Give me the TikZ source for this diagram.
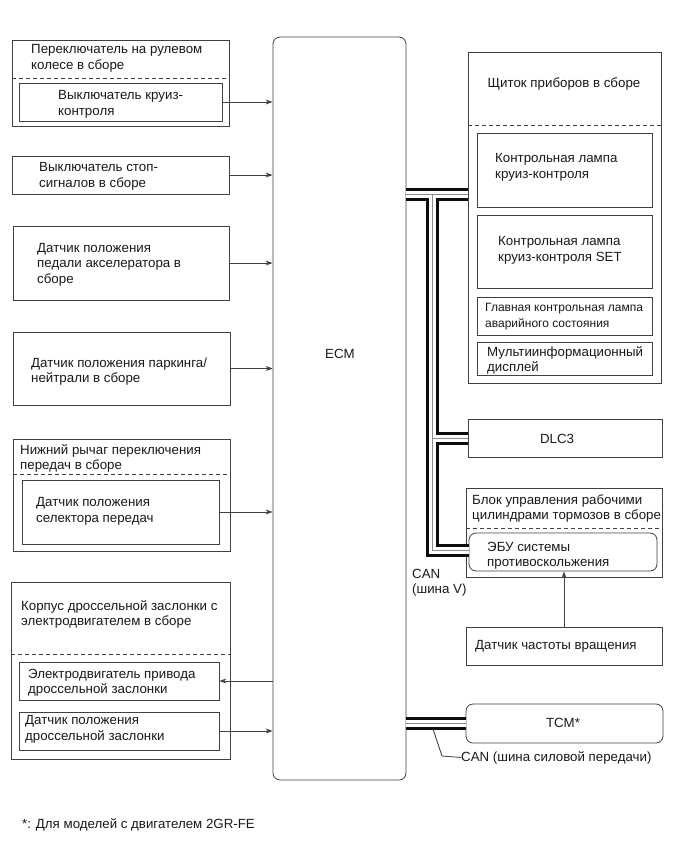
\documentclass[tikz,border=0pt]{standalone}
\usepackage{fontspec}
\setmainfont{Liberation Sans}
\usetikzlibrary{fit,arrows.meta}
\begin{document}
\begin{tikzpicture}[x=1pt,y=-1pt,
  box/.style={draw=black!75, line width=0.8pt, inner sep=0pt},
  rbox/.style={box, rounded corners=7pt},
  txt/.style={font=\fontsize{13.3}{15.5}\selectfont, align=left, inner sep=0pt, anchor=west, text=black!90, yshift=-1.5pt},
  smalltxt/.style={txt, font=\fontsize{12}{15.5}\selectfont},
  dashline/.style={draw=black!75, line width=0.8pt, dash pattern=on 4pt off 3pt},
  arr/.style={draw=black!75, line width=0.8pt, -{Stealth[length=7pt,width=5pt]}},
  lead/.style={draw=black!75, line width=0.8pt}
]
\useasboundingbox (0,0) rectangle (690,855);

% ECM
\node[rbox, fit={(273,37) (406,780)}] (ecm) {};
\node[txt, anchor=center] (ecmt) at (340,352) {ECM};

% ---- left column ----
\node[box, fit={(12,40) (229,126)}] (sw) {};
\node[txt] (swt) at (31,57) {Переключатель на рулевом\\колесе в сборе};
\draw[dashline] (12,78) -- (229,78);
\node[box, fit={(19,83) (222,121)}] (swi) {};
\node[txt] (swit) at (58,103) {Выключатель круиз-\\контроля};

\node[box, fit={(12,156) (229,194)}] (stp) {};
\node[txt] (stpt) at (39,175) {Выключатель стоп-\\сигналов в сборе};

\node[box, fit={(13,226) (229,300)}] (acc) {};
\node[txt] (acct) at (37,263) {Датчик положения\\педали акселератора в\\сборе};

\node[box, fit={(13,332) (230,405)}] (pn) {};
\node[txt] (pnt) at (31,370) {Датчик положения паркинга/\\нейтрали в сборе};

\node[box, fit={(13,439) (230,551)}] (lev) {};
\node[txt] (levt) at (20,457) {Нижний рычаг переключения\\передач в сборе};
\draw[dashline] (13,474) -- (230,474);
\node[box, fit={(22,480) (219,544)}] (sel) {};
\node[txt] (selt) at (36,510) {Датчик положения\\селектора передач};

\node[box, fit={(11,582) (230,759)}] (thr) {};
\node[txt] (thrt) at (21,613) {Корпус дроссельной заслонки с\\электродвигателем в сборе};
\draw[dashline] (11,654) -- (230,654);
\node[box, fit={(19,662) (219,700)}] (mot) {};
\node[txt] (mott) at (28,681) {Электродвигатель привода\\дроссельной заслонки};
\node[box, fit={(19,712) (219,750)}] (tps) {};
\node[txt] (tpst) at (25,728) {Датчик положения\\дроссельной заслонки};

% left arrows
\draw[arr] (swi.east) -- (swi.east -| ecm.west);
\draw[arr] (stp.east) -- (stp.east -| ecm.west);
\draw[arr] (acc.east) -- (acc.east -| ecm.west);
\draw[arr] (pn.east) -- (pn.east -| ecm.west);
\draw[arr] (sel.east) -- (sel.east -| ecm.west);
\draw[arr] (mot.east -| ecm.west) -- (mot.east);
\draw[arr] (tps.east) -- (tps.east -| ecm.west);

% ---- right column ----
\node[box, fit={(468,52) (661,383)}] (cl) {};
\node[txt, anchor=center] (clt) at (564,82) {Щиток приборов в сборе};
\draw[dashline] (468,125) -- (661,125);
\node[box, fit={(477,133) (652,207)}] (la) {};
\node[txt] (lat) at (495,166) {Контрольная лампа\\круиз-контроля};
\node[box, fit={(477,215) (652,288)}] (lb) {};
\node[txt] (lbt) at (498,249) {Контрольная лампа\\круиз-контроля SET};
\node[box, fit={(477,297) (652,335)}] (lc) {};
\node[smalltxt] (lct) at (485,315) {Главная контрольная лампа\\аварийного состояния};
\node[box, fit={(477,342) (652,375)}] (ld) {};
\node[txt, font=\fontsize{13.3}{14.5}\selectfont] (ldt) at (487,359) {Мультиинформационный\\дисплей};

\node[box, fit={(468,419) (662,457)}] (dlc) {};
\node[txt, anchor=center] (dlct) at (557,437) {DLC3};

\node[box, fit={(466,488) (662,577)}] (brk) {};
\node[txt] (brkt) at (472,507) {Блок управления рабочими\\цилиндрами тормозов в сборе};
\draw[dashline] (466,528) -- (662,528);
\node[rbox, fit={(469,533) (657,571)}] (ecu) {};
\node[txt] (ecut) at (487,554) {ЭБУ системы\\противоскольжения};

\node[txt] (canv) at (412,581) {CAN\\(шина V)};

\node[box, fit={(466,627) (662,665)}] (spd) {};
\node[txt] (spdt) at (475,645) {Датчик частоты вращения};
\draw[arr] (spd.north) -- (spd.north |- ecu.south);

\node[rbox, fit={(466,704) (663,743)}] (tcm) {};
\node[txt, anchor=center] (tcmt) at (563,721) {TCM*};

% CAN buses
\coordinate (j1) at (432,194);
\coordinate (j2) at (432,438);
\coordinate (j3) at (432,550);
\coordinate (j4) at (432,723);
\foreach \w/\c in {13pt/black!95, 7pt/white, 0.7pt/black!45}{
  \draw[line width=\w, draw=\c]
    (ecm.east |- j1) -- (cl.west |- j1)
    (j1) -- (j3) -- (ecu.west |- j3)
    (j2) -- (dlc.west |- j2)
    (ecm.east |- j4) -- (tcm.west |- j4);
}

% CAN powertrain label
\node[txt] (canp) at (461,756) {CAN (шина силовой передачи)};
\coordinate (l0) at (433,729);
\coordinate (l1) at (442,756);
\draw[lead] (l0) -- (l1) -- (canp.west);

% footnote
\node[txt] (fn) at (22,823) {*: Для моделей с двигателем 2GR-FE};
\end{tikzpicture}
\end{document}
